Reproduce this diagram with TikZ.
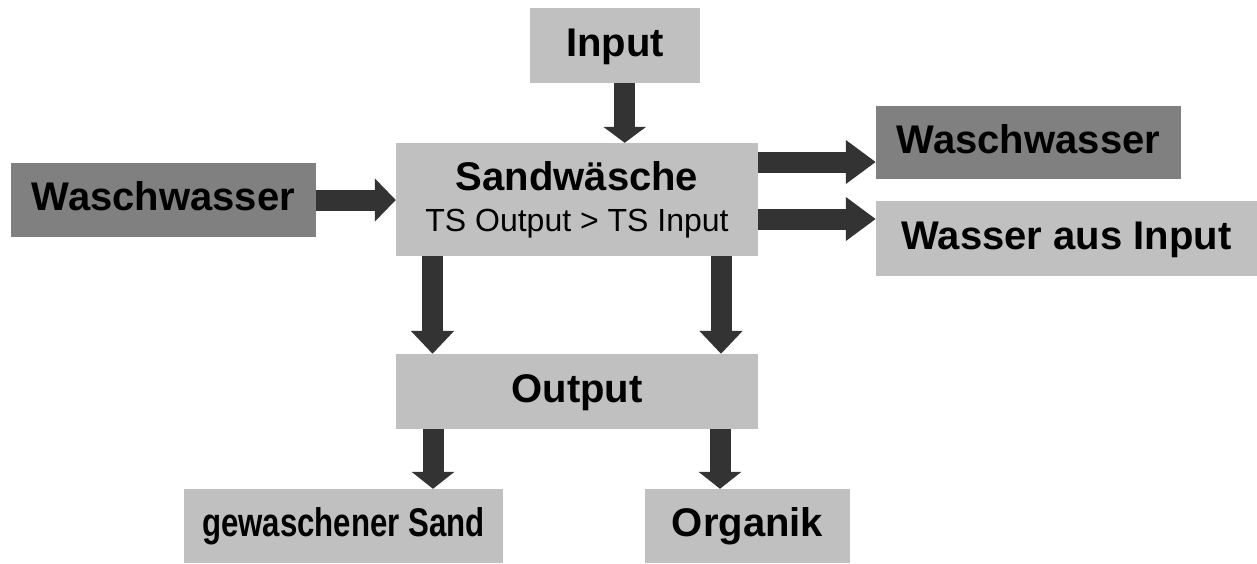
\documentclass[tikz,border=0pt]{standalone}
\usepackage{fontspec}
\setmainfont{Liberation Sans}
\usetikzlibrary{arrows.meta}

\definecolor{boxgray}{HTML}{C0C0C0}
\definecolor{waschgray}{HTML}{808080}
\definecolor{arrowgray}{HTML}{333333}

\begin{document}
\begin{tikzpicture}[x=1pt, y=-1pt,
    box/.style={fill=boxgray, inner sep=0pt, text height=29.8pt, text depth=8.5pt,
        font=\fontsize{40}{47}\selectfont\bfseries},
    darkbox/.style={box, fill=waschgray},
    flow/.style={draw=arrowgray, line width=21pt, -{Triangle[length=#1, width=42pt]}}]
    \useasboundingbox (0,0) rectangle (1257,563);

    % Define nodes for the diagram
    \node[box, minimum width=170pt, minimum height=75pt] (input) at (615,45.5) {Input};
    \node[box, minimum width=362pt, minimum height=113pt, align=center,
        text height={}, text depth={}, font=\fontsize{32}{41}\selectfont] (wash) at (577,199.5)
        {{\bfseries\fontsize{40}{41}\selectfont Sandwäsche}\\TS Output > TS Input};
    \node[darkbox, minimum width=305pt, minimum height=74pt] (washin) at (163.5,200) {Waschwasser};
    \node[darkbox, minimum width=305pt, minimum height=73pt] (washout) at (1028.5,142.5) {Waschwasser};
    \node[box, minimum width=381pt, minimum height=75pt] (water) at (1066.5,238.5) {Wasser aus Input};
    \node[box, minimum width=362pt, minimum height=75pt] (output) at (577,391.5) {Output};
    \node[box, minimum width=319pt, minimum height=74pt] (sand) at (343.5,526) {\scalebox{0.78}[1]{gewaschener Sand}};
    \node[box, minimum width=205pt, minimum height=74pt] (organic) at (747.5,526) {Organik};

    % Draw the flows into the washer
    \draw[flow=16pt] ([xshift=9.7pt]input.south) -- ([xshift=9.7pt]input.south |- wash.north);
    \draw[flow=21pt] (washin.east) -- (washin.east -| wash.west);

    % Draw the flows out of the washer
    \draw[flow=30pt] ([yshift=37.5pt]wash.east) -- ([yshift=37.5pt]wash.east -| washout.west);
    \draw[flow=30pt] ([yshift=-19.5pt]wash.east) -- ([yshift=-19.5pt]wash.east -| water.west);
    \draw[flow=23pt] ([xshift=-144.5pt]wash.south) -- ([xshift=-144.5pt]wash.south |- output.north);
    \draw[flow=23pt] ([xshift=144pt]wash.south) -- ([xshift=144pt]wash.south |- output.north);

    % Draw the output split
    \draw[flow=17pt] ([xshift=-144pt]output.south) -- ([xshift=-144pt]output.south |- sand.north);
    \draw[flow=17pt] ([xshift=143pt]output.south) -- ([xshift=143pt]output.south |- organic.north);
\end{tikzpicture}
\end{document}
